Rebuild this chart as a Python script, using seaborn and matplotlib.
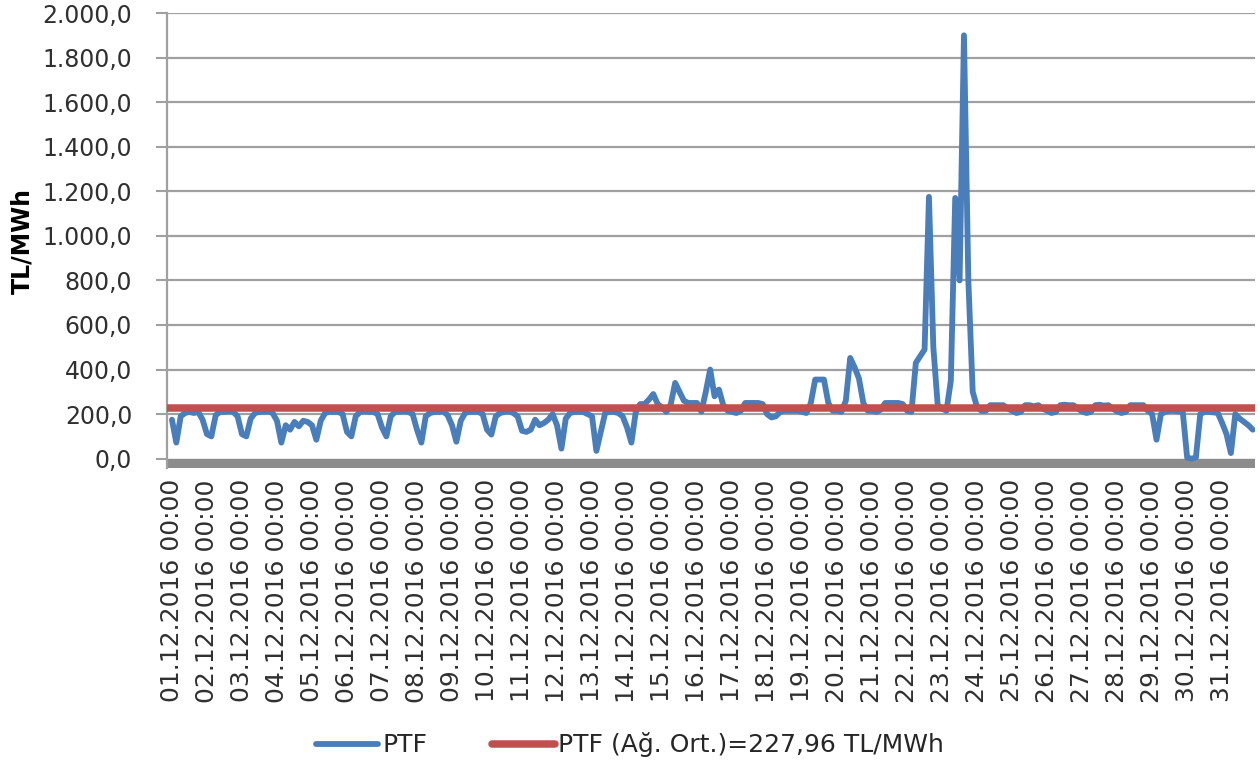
import pandas as pd
import matplotlib
matplotlib.use("Agg")
import matplotlib.pyplot as plt
import seaborn as sns
from matplotlib.ticker import FuncFormatter

# PTF, 3-hourly readings (00,03,06,09,12,15,18,21) per day, December 2016
days = [f"{d:02d}.12.2016 00:00" for d in range(1, 32)]

ptf = [
    175, 72, 190, 205, 210, 205, 210, 175,      # 01.12
    110, 100, 195, 210, 210, 212, 210, 190,     # 02.12
    110, 100, 180, 205, 210, 210, 212, 205,     # 03.12
    170, 72, 150, 130, 165, 145, 170, 165,      # 04.12
    150, 85, 170, 205, 210, 210, 210, 200,      # 05.12
    120, 100, 190, 210, 212, 210, 210, 200,     # 06.12
    140, 100, 190, 210, 210, 212, 210, 200,     # 07.12
    130, 72, 190, 205, 210, 210, 212, 195,      # 08.12
    150, 76, 170, 205, 210, 210, 210, 200,      # 09.12
    130, 108, 190, 205, 210, 212, 205, 190,     # 10.12
    125, 120, 130, 175, 150, 160, 175, 200,     # 11.12
    150, 45, 180, 205, 210, 210, 210, 200,      # 12.12
    190, 35, 120, 205, 210, 210, 205, 190,      # 13.12
    140, 72, 210, 245, 245, 265, 290, 245,      # 14.12
    230, 210, 245, 340, 300, 260, 250, 250,     # 15.12
    250, 211, 300, 400, 280, 310, 240, 215,     # 16.12
    210, 205, 215, 250, 250, 250, 250, 245,     # 17.12
    200, 185, 190, 210, 215, 215, 215, 215,     # 18.12
    210, 205, 250, 355, 355, 355, 250, 215,     # 19.12
    215, 210, 260, 452, 410, 360, 250, 215,     # 20.12
    215, 210, 220, 250, 250, 250, 250, 245,     # 21.12
    215, 210, 430, 460, 490, 1175, 500, 240,    # 22.12
    225, 215, 350, 1170, 800, 1900, 800, 300,   # 23.12
    230, 215, 215, 240, 240, 240, 240, 225,     # 24.12
    215, 205, 210, 240, 240, 235, 240, 225,     # 25.12
    215, 205, 210, 240, 242, 240, 240, 225,     # 26.12
    212, 205, 210, 240, 242, 238, 240, 225,     # 27.12
    212, 205, 210, 240, 240, 240, 240, 215,     # 28.12
    200, 85, 200, 210, 215, 215, 212, 210,      # 29.12
    5, 0, 5, 200, 210, 210, 208, 205,           # 30.12
    160, 110, 25, 200, 180, 165, 150, 130,      # 31.12
]
ptf_avg = 227.96

y_ticks = list(range(0, 2001, 200))

df = pd.DataFrame({"idx": range(len(ptf)), "PTF": ptf})

sns.set_theme(style="white")
plt.rcParams["font.family"] = ["DejaVu Sans"]

fig = plt.figure(figsize=(12.6, 7.67), dpi=100)
ax = fig.add_axes([0.1325, 0.3898, 0.8635, 0.5932])

blue = "#4a7ebb"
red = "#c0504d"
grey = "#a0a0a0"

ax.axhspan(-42, 0, color="#8c8c8c", zorder=1)
for v in y_ticks[1:]:
    ax.axhline(v, color=grey, lw=1.6, zorder=0)

sns.lineplot(data=df, x="idx", y="PTF", ax=ax, color=blue, lw=4.2,
             label="PTF", zorder=3)
ax.axhline(ptf_avg, color=red, lw=5.4, zorder=4,
           label="PTF (Ağ. Ort.)=227,96 TL/MWh")

ax.set_xlim(-1.14, 247.5)
ax.set_ylim(-42, 2000)

ax.set_xticks(range(0, len(ptf), 8))
ax.set_xticklabels(days, rotation=90, fontsize=18, color="#303030")
ax.set_yticks(y_ticks)
ax.yaxis.set_major_formatter(
    FuncFormatter(lambda v, p: f"{v:,.1f}".replace(",", "X").replace(".", ",").replace("X", ".")))
ax.tick_params(axis="y", labelsize=17, colors="#303030", length=8, width=1.5,
               color=grey, left=True, pad=17)
ax.tick_params(axis="x", length=0, pad=8)

for s in ["top", "right", "bottom"]:
    ax.spines[s].set_visible(False)
ax.spines["left"].set_color(grey)
ax.spines["left"].set_linewidth(1.6)

ax.set_xlabel("")
ax.set_ylabel("TL/MWh", fontsize=17, fontweight="bold", color="black", labelpad=6)

h, l = ax.get_legend_handles_labels()
ax.get_legend().remove()
fig.legend(h, l, loc="center", bbox_to_anchor=(0.5, 0.029), ncol=2,
           frameon=False, fontsize=18, handlelength=2.5, columnspacing=2.6,
           handletextpad=0.15)

fig.savefig("out.png", dpi=100)
